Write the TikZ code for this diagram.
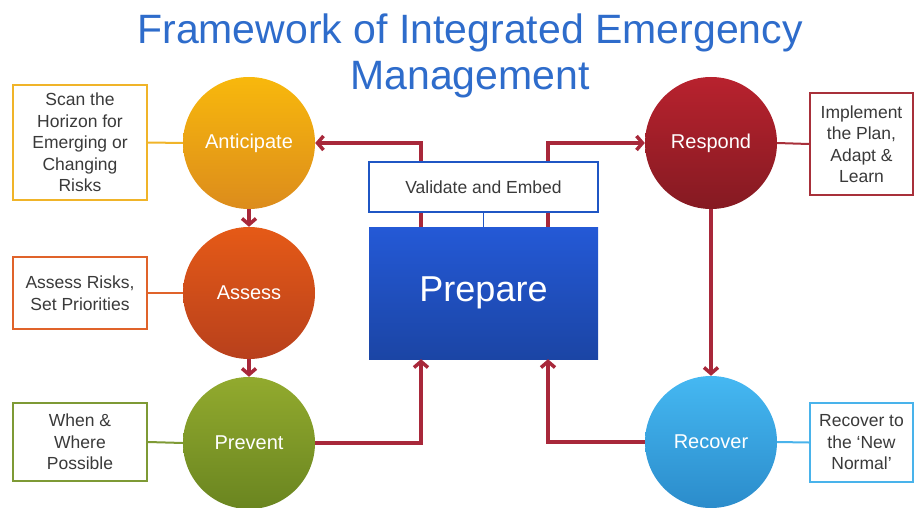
\documentclass[tikz,border=0pt]{standalone}
\usepackage{fontspec}
\setmainfont{Liberation Sans}
\usetikzlibrary{arrows.meta}

\definecolor{titleblue}{HTML}{2E6CCB}
\definecolor{flowred}{HTML}{A8283A}
\definecolor{txtgray}{HTML}{3A3A3A}
\definecolor{antTop}{HTML}{F8B80C}\definecolor{antBot}{HTML}{DC8C1C}
\definecolor{assTop}{HTML}{E55A17}\definecolor{assBot}{HTML}{B8401C}
\definecolor{prvTop}{HTML}{92AA2E}\definecolor{prvBot}{HTML}{6A8520}
\definecolor{resTop}{HTML}{B8222E}\definecolor{resBot}{HTML}{851A22}
\definecolor{recTop}{HTML}{45B8F2}\definecolor{recBot}{HTML}{2B8CCB}
\definecolor{antLine}{HTML}{F0B429}
\definecolor{assLine}{HTML}{E0632A}
\definecolor{prvLine}{HTML}{7E9A35}
\definecolor{resLine}{HTML}{A8303A}
\definecolor{recLine}{HTML}{49B3EB}
\definecolor{prepTop}{HTML}{2459D6}\definecolor{prepBot}{HTML}{1B45A5}
\definecolor{prepLine}{HTML}{1F56C4}

\tikzset{
  phase/.style={circle, minimum size=132pt, inner sep=0pt, text=white,
    font=\fontsize{20}{24}\selectfont},
  note/.style={draw, line width=2.4pt, fill=white, inner sep=0pt, align=center,
    text=txtgray, font=\fontsize{17.5}{21.5}\selectfont},
  tie/.style={line width=2pt},
  flow/.style={draw=flowred, line width=3.5pt,
    -{Straight Barb[length=6pt,width=14pt]}},
}

\begin{document}
\begin{tikzpicture}[x=1pt,y=-1pt]
\useasboundingbox (0,0) rectangle (915,508);

% title (base anchor sits on the last line)
\node[text=titleblue, align=center, inner sep=0pt, anchor=base,
  font=\fontsize{41}{46}\selectfont] (title) at (470,90)
  {Framework of Integrated Emergency\\Management};

% phase circles
\node[phase, top color=antTop, bottom color=antBot] (ant) at (249,143) {Anticipate};
\node[phase, top color=assTop, bottom color=assBot] (ass) at (249,293) {Assess};
\node[phase, top color=prvTop, bottom color=prvBot] (prv) at (249,443) {Prevent};
\node[phase, top color=resTop, bottom color=resBot] (res) at (711,143) {Respond};
\node[phase, top color=recTop, bottom color=recBot] (rec) at (711,442) {Recover};

% central block
\node[top color=prepTop, bottom color=prepBot, minimum width=229pt,
  minimum height=132pt, inner sep=0pt, text=white,
  font=\fontsize{36}{40}\selectfont] (prep) at (483.5,293) {Prepare};

% description boxes
\node[note, draw=antLine, minimum width=134pt, minimum height=115pt] (antN) at (80,142.5)
  {Scan the\\Horizon for\\Emerging or\\Changing\\Risks};
\node[note, draw=assLine, minimum width=134pt, minimum height=72pt] (assN) at (80,293)
  {Assess Risks,\\Set Priorities};
\node[note, draw=prvLine, minimum width=134pt, minimum height=78pt] (prvN) at (80,442)
  {When \&\\Where\\Possible};
\node[note, draw=resLine, minimum width=103pt, minimum height=102pt] (resN) at (861.5,144)
  {Implement\\the Plan,\\Adapt \&\\Learn};
\node[note, draw=recLine, minimum width=103pt, minimum height=79pt] (recN) at (861.5,442.5)
  {Recover to\\the `New\\Normal'};

% ties from boxes to circles
\draw[tie, antLine] (antN.east) -- (ant.west);
\draw[tie, assLine] (assN.east) -- (ass.west);
\draw[tie, prvLine] (prvN.east) -- (prv.west);
\draw[tie, resLine] (res.east) -- (resN.west);
\draw[tie, recLine] (rec.east) -- (recN.west);

% cycle arrows
\draw[flow] ([xshift=-62.5pt]prep.north) |- (ant.east);
\draw[flow] ([xshift=64.5pt]prep.north) |- (res.west);
\draw[flow] (ant.south) -- (ass.north);
\draw[flow] (ass.south) -- (prv.north);
\draw[flow] (res.south) -- (rec.north);
\draw[flow] (prv.east) -| ([xshift=-62.5pt]prep.south);
\draw[flow] (rec.west) -| ([xshift=64.5pt]prep.south);

% validation box over the arrows
\node[draw=prepLine, line width=2.4pt, fill=white, minimum width=229pt,
  minimum height=50pt, inner sep=0pt, text=txtgray,
  font=\fontsize{17.5}{21}\selectfont] (val) at (483.5,187) {Validate and Embed};
\draw[prepLine, line width=1.6pt] (val.south) -- (prep.north);
\end{tikzpicture}
\end{document}
